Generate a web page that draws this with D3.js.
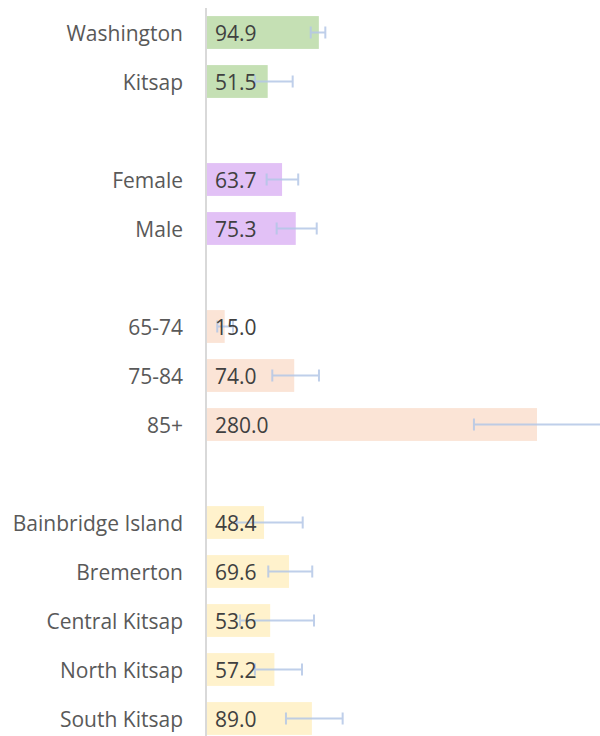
<html>
<script src="https://d3js.org/d3.v7.min.js"></script>
<style>
    body { margin: 0; background: #fff; }
    text { font-family: "Open Sans", Lato, sans-serif; }
</style>
<body>
<svg id="chart" width="600" height="736"></svg>
<script>
    // chart data
    const categories = ["Washington", "Kitsap", "Female", "Male", "65-74", "75-84", "85+",
        "Bainbridge Island", "Bremerton", "Central Kitsap", "North Kitsap", "South Kitsap"];
    const groups = [0, 0, 1, 1, 2, 2, 2, 3, 3, 3, 3, 3];
    const values = [94.9, 51.5, 63.7, 75.3, 15.0, 74.0, 280.0, 48.4, 69.6, 53.6, 57.2, 89.0];
    const lower = [88.0, 40.7, 50.6, 59.1, 8.7, 55.4, 226.5, 25.2, 52.0, 28.0, 40.7, 67.0];
    const upper = [100.4, 72.7, 77.4, 93.1, 22.1, 95.0, 340.0, 81.2, 89.3, 90.8, 80.6, 115.1];
    const groupColors = ["#c5e0b4", "#e2c1f6", "#fbe4d6", "#fff2cc"];

    // slots with an empty row between groups
    var slots = [];
    categories.forEach(function (c, i) {
        if (i > 0 && groups[i] != groups[i - 1]) slots.push("gap" + i);
        slots.push(c);
    });

    var rows = categories.map(function (c, i) {
        return { name: c, value: values[i], lo: lower[i], hi: upper[i], group: groups[i] };
    });

    var ys = d3.scaleBand().domain(slots).range([8, 8 + 49 * slots.length])
        .paddingInner(0.33).paddingOuter(0.165);
    var xs = d3.scaleLinear().domain([0, 280]).range([207, 537]);

    var svg = d3.select("#chart");

    svg.append("g").selectAll("rect").data(rows).enter().append("rect")
        .attr("x", xs(0))
        .attr("y", d => ys(d.name))
        .attr("width", d => xs(d.value) - xs(0))
        .attr("height", ys.bandwidth())
        .attr("fill", d => groupColors[d.group]);

    // error bars
    var eb = svg.append("g")
        .attr("stroke", "#b4c7e7")
        .attr("stroke-width", 2)
        .attr("opacity", 0.85);
    rows.forEach(function (d) {
        var cy = ys(d.name) + ys.bandwidth() / 2;
        eb.append("line").attr("x1", xs(d.lo)).attr("x2", xs(d.hi)).attr("y1", cy).attr("y2", cy);
        eb.append("line").attr("x1", xs(d.lo)).attr("x2", xs(d.lo)).attr("y1", cy - 6).attr("y2", cy + 6);
        eb.append("line").attr("x1", xs(d.hi)).attr("x2", xs(d.hi)).attr("y1", cy - 6).attr("y2", cy + 6);
    });

    // value labels
    svg.append("g").selectAll("text").data(rows).enter().append("text")
        .attr("x", xs(0) + 8)
        .attr("y", d => ys(d.name) + ys.bandwidth() / 2)
        .attr("dy", "0.42em")
        .attr("font-size", 21)
        .attr("fill", "#404040")
        .text(d => d.value.toFixed(1));

    // category axis
    var axis = d3.axisLeft(ys).tickSize(0).tickPadding(23)
        .tickFormat(d => d.startsWith("gap") ? "" : d);
    var ag = svg.append("g").attr("transform", "translate(206,0)").call(axis);
    ag.select(".domain").attr("stroke", "#d9d9d9").attr("stroke-width", 2)
        .attr("d", "M0,8V736");
    ag.selectAll(".tick text")
        .attr("dy", "0.42em")
        .attr("font-size", 21)
        .attr("font-family", "'Open Sans', Lato, sans-serif")
        .attr("fill", "#595959");
</script>
</body>
</html>
